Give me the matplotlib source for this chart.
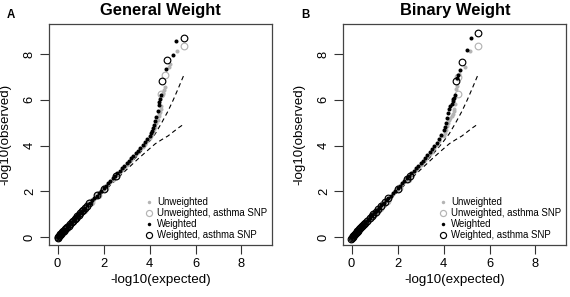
import matplotlib
matplotlib.use("Agg")
import matplotlib.pyplot as plt
from matplotlib.lines import Line2D

plt.rcParams['font.family'] = ['Liberation Sans', 'DejaVu Sans']

# ---------------- data ----------------
# shared expected -log10(p) values for the dense part of the QQ curves
expected_dense = [0.00, 0.05, 0.10, 0.15, 0.20, 0.30, 0.40, 0.50, 0.60, 0.70,
                  0.80, 0.90, 1.00, 1.10, 1.20, 1.30, 1.40, 1.50, 1.60, 1.70,
                  1.80, 1.90, 2.00, 2.10, 2.20, 2.30, 2.40, 2.50, 2.60, 2.70,
                  2.80, 2.90, 3.00, 3.10, 3.20, 3.30, 3.40, 3.50, 3.60, 3.70,
                  3.80, 3.90, 4.00, 4.05, 4.10, 4.15, 4.20, 4.25, 4.30, 4.35,
                  4.40]

# Panel A (General Weight)
a_weighted = [0.00, 0.05, 0.11, 0.16, 0.22, 0.33, 0.44, 0.55, 0.65, 0.76,
              0.87, 0.97, 1.08, 1.18, 1.29, 1.40, 1.50, 1.61, 1.71, 1.82,
              1.92, 2.03, 2.13, 2.24, 2.35, 2.46, 2.57, 2.68, 2.79, 2.90,
              3.01, 3.12, 3.23, 3.34, 3.45, 3.56, 3.67, 3.78, 3.90, 4.02,
              4.15, 4.28, 4.43, 4.53, 4.64, 4.76, 4.90, 5.06, 5.26, 5.50,
              5.78]
a_unweighted = [-0.02, 0.04, 0.09, 0.14, 0.20, 0.31, 0.42, 0.52, 0.63, 0.74,
                0.84, 0.95, 1.05, 1.16, 1.26, 1.37, 1.47, 1.58, 1.68, 1.79,
                1.89, 2.00, 2.10, 2.21, 2.31, 2.42, 2.52, 2.63, 2.74, 2.85,
                2.95, 3.06, 3.17, 3.28, 3.39, 3.50, 3.62, 3.74, 3.85, 3.96,
                4.08, 4.20, 4.33, 4.41, 4.50, 4.60, 4.71, 4.83, 4.97, 5.12,
                5.28]
# sparse upper tail (expected, observed)
a_w_tail_x = [4.42, 4.44, 4.48, 4.70, 5.00, 5.17]
a_w_tail_y = [5.90, 6.02, 6.20, 7.34, 7.97, 8.55]
a_u_tail_x = [4.43, 4.45, 4.48, 4.50, 4.57, 4.61, 4.66, 4.83, 4.90, 5.18]
a_u_tail_y = [5.36, 5.45, 5.58, 5.72, 6.29, 6.42, 6.56, 7.42, 7.58, 8.14]
# asthma SNPs
a_w_snp_x = [0.00, 0.03, 0.06, 0.09, 0.12, 0.16, 0.20, 0.24, 0.28, 0.33, 0.38,
             0.43, 0.48, 0.55, 0.62, 0.68, 0.74, 0.80, 0.86, 0.92, 0.98, 1.05,
             1.12, 1.20, 1.28, 1.38, 1.72, 2.00, 2.52, 4.54, 4.77, 5.48]
a_w_snp_y = [-0.04, 0.01, 0.05, 0.08, 0.12, 0.16, 0.21, 0.25, 0.29, 0.35, 0.40,
             0.46, 0.51, 0.59, 0.66, 0.72, 0.79, 0.86, 0.92, 0.99, 1.05, 1.13,
             1.21, 1.29, 1.38, 1.48, 1.84, 2.12, 2.69, 6.83, 7.73, 8.72]
a_u_snp_x = [0.02, 0.07, 0.12, 0.18, 0.24, 0.32, 0.40, 0.50, 0.58, 0.68, 0.77,
             0.85, 0.94, 1.03, 1.15, 1.25, 1.45, 1.75, 2.05, 2.55, 4.52, 4.66, 5.48]
a_u_snp_y = [0.00, 0.05, 0.10, 0.17, 0.23, 0.32, 0.41, 0.52, 0.60, 0.71, 0.81,
             0.89, 0.99, 1.08, 1.21, 1.31, 1.53, 1.85, 2.16, 2.68, 6.24, 7.09, 8.35]

# Panel B (Binary Weight)
b_weighted = [0.00, 0.05, 0.11, 0.16, 0.22, 0.33, 0.44, 0.55, 0.65, 0.76,
              0.87, 0.97, 1.08, 1.18, 1.29, 1.40, 1.50, 1.61, 1.71, 1.82,
              1.92, 2.03, 2.13, 2.24, 2.35, 2.46, 2.57, 2.68, 2.79, 2.90,
              3.01, 3.12, 3.23, 3.34, 3.45, 3.57, 3.72, 3.84, 3.98, 4.13,
              4.30, 4.48, 4.66, 4.80, 4.98, 5.20, 5.42, 5.60, 5.72, 5.82,
              5.95]
b_unweighted = [-0.02, 0.04, 0.09, 0.14, 0.20, 0.31, 0.42, 0.52, 0.63, 0.74,
                0.84, 0.95, 1.05, 1.16, 1.26, 1.37, 1.47, 1.58, 1.68, 1.79,
                1.89, 2.00, 2.10, 2.21, 2.31, 2.42, 2.52, 2.63, 2.74, 2.85,
                2.95, 3.06, 3.17, 3.28, 3.39, 3.50, 3.62, 3.74, 3.88, 4.04,
                4.22, 4.40, 4.42, 4.55, 4.68, 4.85, 5.00, 5.12, 5.22, 5.30,
                5.38]
b_w_tail_x = [4.42, 4.45, 4.48, 4.58, 4.63, 4.70, 5.02, 5.18]
b_w_tail_y = [6.02, 6.08, 6.21, 6.95, 7.09, 7.31, 8.16, 8.69]
b_u_tail_x = [4.45, 4.47, 4.50, 4.55, 4.60, 4.68, 4.92, 5.17]
b_u_tail_y = [5.50, 5.62, 5.80, 6.45, 6.60, 7.12, 7.42, 8.12]
b_w_snp_x = [-0.02, 0.02, 0.05, 0.08, 0.12, 0.15, 0.18, 0.22, 0.25, 0.29, 0.33,
             0.38, 0.42, 0.46, 0.50, 0.55, 0.60, 0.68, 0.78, 0.88, 0.95, 1.05,
             1.15, 1.30, 1.45, 1.60, 2.00, 2.40, 2.55, 4.54, 4.79, 5.48]
b_w_snp_y = [-0.08, -0.03, 0.02, 0.05, 0.10, 0.13, 0.17, 0.21, 0.25, 0.29, 0.34,
             0.39, 0.43, 0.48, 0.52, 0.58, 0.63, 0.71, 0.82, 0.92, 1.00, 1.11,
             1.22, 1.38, 1.54, 1.70, 2.12, 2.53, 2.69, 6.80, 7.67, 8.93]
b_u_snp_x = [0.02, 0.08, 0.14, 0.22, 0.30, 0.38, 0.46, 0.55, 0.64, 0.73, 0.83,
             0.92, 1.00, 1.10, 1.22, 1.38, 1.52, 2.05, 2.45, 4.61, 4.64, 5.48]
b_u_snp_y = [0.02, 0.07, 0.13, 0.22, 0.30, 0.39, 0.47, 0.57, 0.66, 0.76, 0.87,
             0.96, 1.04, 1.15, 1.27, 1.44, 1.59, 2.14, 2.56, 6.24, 7.00, 8.35]

# 95% confidence band (dashed), same for both panels
ci_x = [0.00, 1.00, 2.00, 2.50, 3.00, 3.50, 3.95, 4.25, 4.53, 4.80, 5.03, 5.25, 5.48]
ci_upper = [0.00, 1.00, 2.02, 2.54, 3.06, 3.58, 4.12, 4.52, 5.00, 5.50, 5.99, 6.50, 7.05]
ci_lower = [0.00, 1.00, 1.98, 2.47, 2.95, 3.42, 3.82, 4.08, 4.26, 4.42, 4.60, 4.77, 4.93]

titles = ["General Weight", "Binary Weight"]
panel_letters = ["A", "B"]
legend_labels = ["Unweighted", "Unweighted, asthma SNP", "Weighted", "Weighted, asthma SNP"]
ticks = [0, 2, 4, 6, 8]

# ---------------- figure ----------------
GRAY = '#b4b4b4'
fig = plt.figure(figsize=(5.70, 2.97), dpi=100)
W, H = 570, 297
ax_w, ax_h = 223, 221
lefts = [49.3, 343.3]
top = 24

panels = [
    (a_weighted, a_unweighted, a_w_tail_x, a_w_tail_y, a_u_tail_x, a_u_tail_y,
     a_w_snp_x, a_w_snp_y, a_u_snp_x, a_u_snp_y),
    (b_weighted, b_unweighted, b_w_tail_x, b_w_tail_y, b_u_tail_x, b_u_tail_y,
     b_w_snp_x, b_w_snp_y, b_u_snp_x, b_u_snp_y),
]

for i, p in enumerate(panels):
    (w, u, wtx, wty, utx, uty, wsx, wsy, usx, usy) = p
    ax = fig.add_axes([lefts[i] / W, (H - top - ax_h) / H, ax_w / W, ax_h / H])
    ax.plot(ci_x, ci_upper, color='black', lw=0.8, ls=(0, (4, 3)), zorder=1)
    ax.plot(ci_x, ci_lower, color='black', lw=0.8, ls=(0, (4, 3)), zorder=1)
    dot = dict(ls='none', marker='o', ms=2.9, mew=0)
    circ = dict(ls='none', marker='o', ms=4.8, mfc='none', mew=0.85)
    ax.plot(expected_dense, u, color=GRAY, zorder=2, **dot)
    ax.plot(utx, uty, color=GRAY, zorder=2, **dot)
    ax.plot(usx, usy, mec=GRAY, zorder=3, **circ)
    ax.plot(expected_dense, w, color='black', zorder=4, **dot)
    ax.plot(wtx, wty, color='black', zorder=4, **dot)
    ax.plot(wsx, wsy, mec='black', zorder=5, **circ)

    ax.set_xlim(-0.36, 9.34)
    ax.set_ylim(-0.34, 9.31)
    ax.set_xticks(ticks)
    ax.set_yticks(ticks)
    ax.tick_params(axis='both', direction='out', length=6.2, width=0.8,
                   color='#333333', pad=3.5, labelsize=9.3)
    for lbl in ax.get_yticklabels():
        lbl.set_rotation(90)
        lbl.set_va('center')
    for s in ax.spines.values():
        s.set_color('#444444')
        s.set_linewidth(0.9)
    ax.set_xlabel('-log10(expected)', fontsize=9.6)
    ax.set_ylabel('-log10(observed)', fontsize=9.6)
    ax.xaxis.set_label_coords(0.5, -0.133)
    ax.yaxis.set_label_coords(-0.172, 0.5)
    ax.set_title(titles[i], fontsize=11.9, fontweight='bold', pad=6.5)

    legend_dot = dict(dot, ms=2.5)
    legend_circ = dict(circ, ms=4.4)
    handles = [
        Line2D([], [], color=GRAY, **legend_dot),
        Line2D([], [], mec=GRAY, **legend_circ),
        Line2D([], [], color='black', **legend_dot),
        Line2D([], [], mec='black', **legend_circ),
    ]
    ax.legend(handles, legend_labels, loc='lower right', bbox_to_anchor=(1.0, 0.0),
              frameon=False, fontsize=6.9, handlelength=0.8, handletextpad=0.5,
              labelspacing=0.1, borderpad=0.3, borderaxespad=0.2)

    fig.text((lefts[i] - 38) / W, 1 - 15 / H, panel_letters[i], fontsize=8.3,
             fontweight='bold', ha='center', va='center')

fig.savefig('out.png', dpi=100)
